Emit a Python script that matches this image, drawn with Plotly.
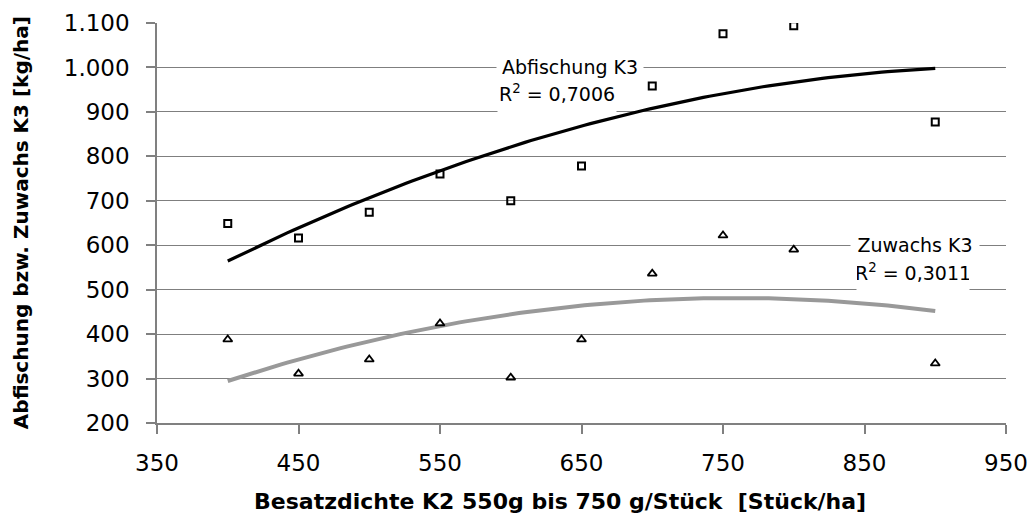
import numpy as np
import plotly.graph_objects as go

# Data
besatz = [400, 450, 500, 550, 600, 650, 700, 750, 800, 900]
abfischung = [649, 616, 674, 760, 700, 778, 958, 1076, 1094, 877]
zuwachs = [388, 311, 343, 424, 302, 388, 536, 622, 590, 334]

x_ticks = [350, 450, 550, 650, 750, 850, 950]
y_ticks = [200, 300, 400, 500, 600, 700, 800, 900, 1000, 1100]

FONT = "DejaVu Sans"

# Polynomial (order 2) trendlines, as in the original spreadsheet chart
xs = np.linspace(min(besatz), max(besatz), 120)
c1 = np.polyfit(besatz, abfischung, 2)
c2 = np.polyfit(besatz, zuwachs, 2)

fig = go.Figure()
fig.add_trace(go.Scatter(x=xs, y=np.polyval(c1, xs), mode="lines",
                         line=dict(color="black", width=3.2), showlegend=False, hoverinfo="skip"))
fig.add_trace(go.Scatter(x=xs, y=np.polyval(c2, xs), mode="lines",
                         line=dict(color="#999999", width=4), showlegend=False, hoverinfo="skip"))
fig.add_trace(go.Scatter(x=besatz, y=abfischung, mode="markers", name="Abfischung K3",
                         marker=dict(symbol="square-open", size=7, color="black",
                                     line=dict(color="black", width=2)), showlegend=False))
fig.add_trace(go.Scatter(x=besatz, y=zuwachs, mode="markers", name="Zuwachs K3",
                         marker=dict(symbol="triangle-up-open", size=8, color="black",
                                     line=dict(color="black", width=1.8)), showlegend=False))

lab_font = dict(family=FONT, size=19, color="black")
annots = [
    dict(x=642, y=1000, text="Abfischung K3", width=146, height=22),
    dict(x=633, y=933, text="R<sup>2</sup> = 0,7006", width=118, height=32, valign="top"),
    dict(x=886, y=600, text="Zuwachs K3", width=128, height=22),
    dict(x=884, y=531, text="R<sup>2</sup> = 0,3011", width=112, height=32, valign="top"),
]
for a in annots:
    fig.add_annotation(xref="x", yref="y", showarrow=False, bgcolor="white",
                       borderpad=0, font=lab_font, xanchor="center", yanchor="middle", **a)

fig.add_annotation(xref="x", yref="paper", x=635, y=-0.195, showarrow=False,
                   text="<b>Besatzdichte K2 550g bis 750 g/Stück  [Stück/ha]</b>",
                   font=dict(family=FONT, size=22, color="black"), xanchor="center", yanchor="middle")
fig.add_annotation(xref="paper", yref="paper", x=-0.16, y=0.5, showarrow=False, textangle=-90,
                   text="<b>Abfischung bzw. Zuwachs K3 [kg/ha]</b>",
                   font=dict(family=FONT, size=20, color="black"), xanchor="center", yanchor="middle")

axis_common = dict(showline=True, linecolor="#808080", linewidth=1.5, ticks="outside",
                   ticklen=9, tickcolor="#808080", tickwidth=1.5, zeroline=False,
                   automargin=False,
                   tickfont=dict(family=FONT, size=23, color="black"))

fig.update_xaxes(range=[350, 950], tickvals=x_ticks, showgrid=False,
                 ticklabelstandoff=10, **axis_common)
fig.update_yaxes(range=[200, 1100], tickvals=y_ticks, tickformat=",d", showgrid=True,
                 gridcolor="#7f7f7f", gridwidth=1, ticklabelstandoff=12, **axis_common)

# The page adds an 8px body margin, so the figure is sized to fit inside the window.
fig.update_layout(width=1027, height=509, separators=",.",
                  margin=dict(l=149, r=29, t=15, b=94, autoexpand=False),
                  plot_bgcolor="white", paper_bgcolor="white",
                  font=dict(family=FONT, color="black"))

fig.write_html("out.html")
